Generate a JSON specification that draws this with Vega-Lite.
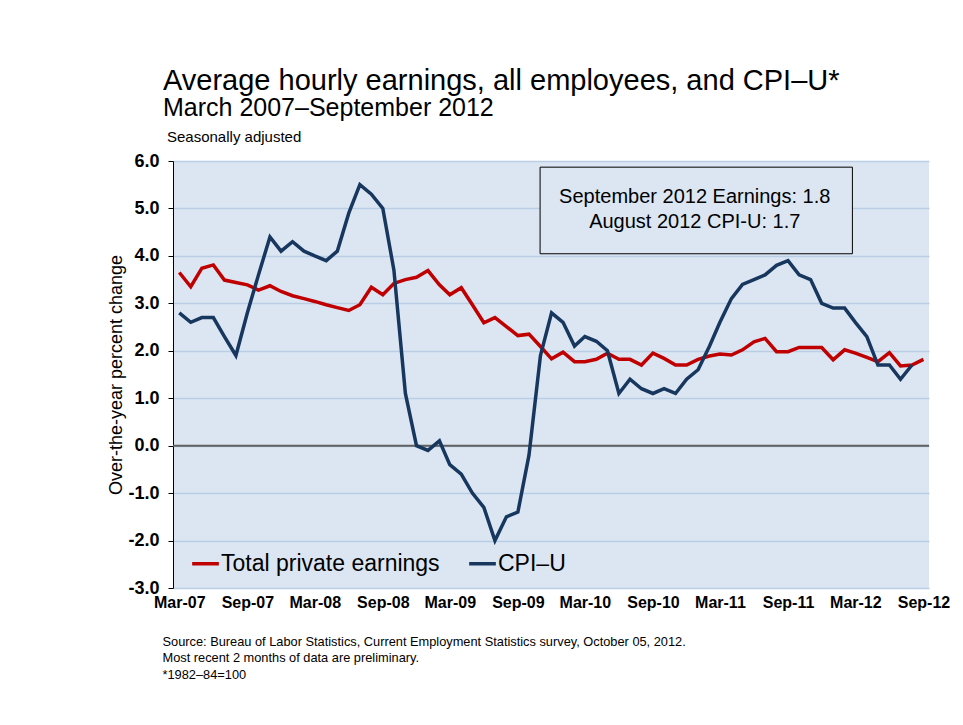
{
  "$schema": "https://vega.github.io/schema/vega-lite/v6.json",
  "width": 756,
  "height": 427,
  "autosize": {"type": "none"},
  "padding": {"left": 173, "top": 161, "right": 34, "bottom": 137},
  "background": "#ffffff",
  "config": {
    "font": "Liberation Sans",
    "view": {"fill": "#dce6f2", "stroke": null}
  },
  "title": {
    "text": "Average hourly earnings, all employees, and CPI–U*",
    "subtitle": "March 2007–September 2012",
    "anchor": "start",
    "frame": "group",
    "orient": "top",
    "dx": -10,
    "offset": 9,
    "font": "Liberation Sans",
    "fontSize": 29,
    "fontWeight": "normal",
    "color": "#000000",
    "subtitleFont": "Liberation Sans",
    "subtitleFontSize": 25,
    "subtitleColor": "#000000",
    "subtitlePadding": 0
  },
  "datasets": {
    "series": [
      {"date": "2007-03-01", "series": "Total private earnings", "value": 3.65},
      {"date": "2007-04-01", "series": "Total private earnings", "value": 3.35},
      {"date": "2007-05-01", "series": "Total private earnings", "value": 3.74},
      {"date": "2007-06-01", "series": "Total private earnings", "value": 3.81},
      {"date": "2007-07-01", "series": "Total private earnings", "value": 3.49},
      {"date": "2007-08-01", "series": "Total private earnings", "value": 3.44},
      {"date": "2007-09-01", "series": "Total private earnings", "value": 3.39},
      {"date": "2007-10-01", "series": "Total private earnings", "value": 3.28},
      {"date": "2007-11-01", "series": "Total private earnings", "value": 3.37},
      {"date": "2007-12-01", "series": "Total private earnings", "value": 3.25},
      {"date": "2008-01-01", "series": "Total private earnings", "value": 3.16},
      {"date": "2008-02-01", "series": "Total private earnings", "value": 3.10},
      {"date": "2008-03-01", "series": "Total private earnings", "value": 3.04},
      {"date": "2008-04-01", "series": "Total private earnings", "value": 2.97},
      {"date": "2008-05-01", "series": "Total private earnings", "value": 2.91},
      {"date": "2008-06-01", "series": "Total private earnings", "value": 2.85},
      {"date": "2008-07-01", "series": "Total private earnings", "value": 2.97},
      {"date": "2008-08-01", "series": "Total private earnings", "value": 3.34},
      {"date": "2008-09-01", "series": "Total private earnings", "value": 3.18},
      {"date": "2008-10-01", "series": "Total private earnings", "value": 3.42},
      {"date": "2008-11-01", "series": "Total private earnings", "value": 3.50},
      {"date": "2008-12-01", "series": "Total private earnings", "value": 3.55},
      {"date": "2009-01-01", "series": "Total private earnings", "value": 3.69},
      {"date": "2009-02-01", "series": "Total private earnings", "value": 3.39},
      {"date": "2009-03-01", "series": "Total private earnings", "value": 3.18},
      {"date": "2009-04-01", "series": "Total private earnings", "value": 3.33},
      {"date": "2009-05-01", "series": "Total private earnings", "value": 2.97},
      {"date": "2009-06-01", "series": "Total private earnings", "value": 2.59},
      {"date": "2009-07-01", "series": "Total private earnings", "value": 2.70},
      {"date": "2009-08-01", "series": "Total private earnings", "value": 2.51},
      {"date": "2009-09-01", "series": "Total private earnings", "value": 2.32},
      {"date": "2009-10-01", "series": "Total private earnings", "value": 2.35},
      {"date": "2009-11-01", "series": "Total private earnings", "value": 2.09},
      {"date": "2009-12-01", "series": "Total private earnings", "value": 1.83},
      {"date": "2010-01-01", "series": "Total private earnings", "value": 1.97},
      {"date": "2010-02-01", "series": "Total private earnings", "value": 1.77},
      {"date": "2010-03-01", "series": "Total private earnings", "value": 1.77},
      {"date": "2010-04-01", "series": "Total private earnings", "value": 1.82},
      {"date": "2010-05-01", "series": "Total private earnings", "value": 1.95},
      {"date": "2010-06-01", "series": "Total private earnings", "value": 1.82},
      {"date": "2010-07-01", "series": "Total private earnings", "value": 1.82},
      {"date": "2010-08-01", "series": "Total private earnings", "value": 1.70},
      {"date": "2010-09-01", "series": "Total private earnings", "value": 1.95},
      {"date": "2010-10-01", "series": "Total private earnings", "value": 1.84},
      {"date": "2010-11-01", "series": "Total private earnings", "value": 1.70},
      {"date": "2010-12-01", "series": "Total private earnings", "value": 1.70},
      {"date": "2011-01-01", "series": "Total private earnings", "value": 1.82},
      {"date": "2011-02-01", "series": "Total private earnings", "value": 1.89},
      {"date": "2011-03-01", "series": "Total private earnings", "value": 1.93},
      {"date": "2011-04-01", "series": "Total private earnings", "value": 1.91},
      {"date": "2011-05-01", "series": "Total private earnings", "value": 2.02},
      {"date": "2011-06-01", "series": "Total private earnings", "value": 2.19},
      {"date": "2011-07-01", "series": "Total private earnings", "value": 2.26},
      {"date": "2011-08-01", "series": "Total private earnings", "value": 1.98},
      {"date": "2011-09-01", "series": "Total private earnings", "value": 1.98},
      {"date": "2011-10-01", "series": "Total private earnings", "value": 2.07},
      {"date": "2011-11-01", "series": "Total private earnings", "value": 2.07},
      {"date": "2011-12-01", "series": "Total private earnings", "value": 2.07},
      {"date": "2012-01-01", "series": "Total private earnings", "value": 1.81},
      {"date": "2012-02-01", "series": "Total private earnings", "value": 2.02},
      {"date": "2012-03-01", "series": "Total private earnings", "value": 1.95},
      {"date": "2012-04-01", "series": "Total private earnings", "value": 1.86},
      {"date": "2012-05-01", "series": "Total private earnings", "value": 1.77},
      {"date": "2012-06-01", "series": "Total private earnings", "value": 1.96},
      {"date": "2012-07-01", "series": "Total private earnings", "value": 1.68},
      {"date": "2012-08-01", "series": "Total private earnings", "value": 1.70},
      {"date": "2012-09-01", "series": "Total private earnings", "value": 1.82},
      {"date": "2007-03-01", "series": "CPI–U", "value": 2.8},
      {"date": "2007-04-01", "series": "CPI–U", "value": 2.6},
      {"date": "2007-05-01", "series": "CPI–U", "value": 2.7},
      {"date": "2007-06-01", "series": "CPI–U", "value": 2.7},
      {"date": "2007-07-01", "series": "CPI–U", "value": 2.3},
      {"date": "2007-08-01", "series": "CPI–U", "value": 1.9},
      {"date": "2007-09-01", "series": "CPI–U", "value": 2.8},
      {"date": "2007-10-01", "series": "CPI–U", "value": 3.6},
      {"date": "2007-11-01", "series": "CPI–U", "value": 4.4},
      {"date": "2007-12-01", "series": "CPI–U", "value": 4.1},
      {"date": "2008-01-01", "series": "CPI–U", "value": 4.3},
      {"date": "2008-02-01", "series": "CPI–U", "value": 4.1},
      {"date": "2008-03-01", "series": "CPI–U", "value": 4.0},
      {"date": "2008-04-01", "series": "CPI–U", "value": 3.9},
      {"date": "2008-05-01", "series": "CPI–U", "value": 4.1},
      {"date": "2008-06-01", "series": "CPI–U", "value": 4.9},
      {"date": "2008-07-01", "series": "CPI–U", "value": 5.5},
      {"date": "2008-08-01", "series": "CPI–U", "value": 5.3},
      {"date": "2008-09-01", "series": "CPI–U", "value": 5.0},
      {"date": "2008-10-01", "series": "CPI–U", "value": 3.7},
      {"date": "2008-11-01", "series": "CPI–U", "value": 1.1},
      {"date": "2008-12-01", "series": "CPI–U", "value": 0.0},
      {"date": "2009-01-01", "series": "CPI–U", "value": -0.1},
      {"date": "2009-02-01", "series": "CPI–U", "value": 0.1},
      {"date": "2009-03-01", "series": "CPI–U", "value": -0.4},
      {"date": "2009-04-01", "series": "CPI–U", "value": -0.6},
      {"date": "2009-05-01", "series": "CPI–U", "value": -1.0},
      {"date": "2009-06-01", "series": "CPI–U", "value": -1.3},
      {"date": "2009-07-01", "series": "CPI–U", "value": -2.0},
      {"date": "2009-08-01", "series": "CPI–U", "value": -1.5},
      {"date": "2009-09-01", "series": "CPI–U", "value": -1.4},
      {"date": "2009-10-01", "series": "CPI–U", "value": -0.2},
      {"date": "2009-11-01", "series": "CPI–U", "value": 1.9},
      {"date": "2009-12-01", "series": "CPI–U", "value": 2.8},
      {"date": "2010-01-01", "series": "CPI–U", "value": 2.6},
      {"date": "2010-02-01", "series": "CPI–U", "value": 2.1},
      {"date": "2010-03-01", "series": "CPI–U", "value": 2.3},
      {"date": "2010-04-01", "series": "CPI–U", "value": 2.2},
      {"date": "2010-05-01", "series": "CPI–U", "value": 2.0},
      {"date": "2010-06-01", "series": "CPI–U", "value": 1.1},
      {"date": "2010-07-01", "series": "CPI–U", "value": 1.4},
      {"date": "2010-08-01", "series": "CPI–U", "value": 1.2},
      {"date": "2010-09-01", "series": "CPI–U", "value": 1.1},
      {"date": "2010-10-01", "series": "CPI–U", "value": 1.2},
      {"date": "2010-11-01", "series": "CPI–U", "value": 1.1},
      {"date": "2010-12-01", "series": "CPI–U", "value": 1.4},
      {"date": "2011-01-01", "series": "CPI–U", "value": 1.6},
      {"date": "2011-02-01", "series": "CPI–U", "value": 2.1},
      {"date": "2011-03-01", "series": "CPI–U", "value": 2.6},
      {"date": "2011-04-01", "series": "CPI–U", "value": 3.1},
      {"date": "2011-05-01", "series": "CPI–U", "value": 3.4},
      {"date": "2011-06-01", "series": "CPI–U", "value": 3.5},
      {"date": "2011-07-01", "series": "CPI–U", "value": 3.6},
      {"date": "2011-08-01", "series": "CPI–U", "value": 3.8},
      {"date": "2011-09-01", "series": "CPI–U", "value": 3.9},
      {"date": "2011-10-01", "series": "CPI–U", "value": 3.6},
      {"date": "2011-11-01", "series": "CPI–U", "value": 3.5},
      {"date": "2011-12-01", "series": "CPI–U", "value": 3.0},
      {"date": "2012-01-01", "series": "CPI–U", "value": 2.9},
      {"date": "2012-02-01", "series": "CPI–U", "value": 2.9},
      {"date": "2012-03-01", "series": "CPI–U", "value": 2.6},
      {"date": "2012-04-01", "series": "CPI–U", "value": 2.3},
      {"date": "2012-05-01", "series": "CPI–U", "value": 1.7},
      {"date": "2012-06-01", "series": "CPI–U", "value": 1.7},
      {"date": "2012-07-01", "series": "CPI–U", "value": 1.4},
      {"date": "2012-08-01", "series": "CPI–U", "value": 1.7}
    ]
  },
  "layer": [
    {
      "data": {"values": [{}]},
      "mark": {"type": "rule", "color": "#5f5f5f", "strokeWidth": 2},
      "encoding": {"y": {"datum": 0, "type": "quantitative"}}
    },
    {
      "data": {"values": [{}]},
      "mark": {"type": "rect", "fill": "#dce6f2", "stroke": "#000000", "strokeWidth": 1},
      "encoding": {
        "x": {"datum": {"year": 2009, "month": 10, "date": 31, "utc": true}, "type": "temporal"},
        "x2": {"datum": {"year": 2012, "month": 2, "date": 22, "utc": true}},
        "y": {"datum": 5.87, "type": "quantitative"},
        "y2": {"datum": 4.045}
      }
    },
    {
      "data": {"values": [{}]},
      "mark": {"type": "text", "align": "center", "baseline": "alphabetic", "fontSize": 20, "lineHeight": 25, "color": "#000000"},
      "encoding": {
        "x": {"datum": {"year": 2010, "month": 12, "date": 23, "utc": true}, "type": "temporal"},
        "y": {"datum": 5.11, "type": "quantitative"},
        "text": {"value": ["September 2012 Earnings: 1.8", "August 2012 CPI-U: 1.7"]}
      }
    },
    {
      "data": {"name": "series"},
      "mark": {"type": "line", "strokeWidth": 3.5},
      "encoding": {
        "x": {
          "field": "date",
          "type": "temporal",
          "scale": {"type": "utc", "domain": [{"year": 2007, "month": 2, "date": 12, "utc": true}, {"year": 2012, "month": 9, "date": 16, "utc": true}]},
          "axis": {
            "values": [
              {"year": 2007, "month": 3, "date": 1, "utc": true},
              {"year": 2007, "month": 9, "date": 1, "utc": true},
              {"year": 2008, "month": 3, "date": 1, "utc": true},
              {"year": 2008, "month": 9, "date": 1, "utc": true},
              {"year": 2009, "month": 3, "date": 1, "utc": true},
              {"year": 2009, "month": 9, "date": 1, "utc": true},
              {"year": 2010, "month": 3, "date": 1, "utc": true},
              {"year": 2010, "month": 9, "date": 1, "utc": true},
              {"year": 2011, "month": 3, "date": 1, "utc": true},
              {"year": 2011, "month": 9, "date": 1, "utc": true},
              {"year": 2012, "month": 3, "date": 1, "utc": true},
              {"year": 2012, "month": 9, "date": 1, "utc": true}
            ],
            "labelExpr": "utcFormat(datum.value, '%b-%y')",
            "labelFont": "Liberation Sans",
            "labelFontWeight": "bold",
            "labelFontSize": 16,
            "labelColor": "#000000",
            "labelPadding": 6,
            "labelBaseline": "top",
            "labelFlush": false,
            "labelOverlap": false,
            "ticks": false,
            "tickSize": 0,
            "domain": false,
            "grid": false,
            "title": ["Source: Bureau of Labor Statistics, Current Employment Statistics survey, October 05, 2012.", "Most recent 2 months of data are preliminary.", "*1982–84=100"],
            "titleFont": "Liberation Sans",
            "titleFontSize": 12.8,
            "titleFontWeight": "normal",
            "titleColor": "#000000",
            "titleAlign": "left",
            "titleAnchor": "start",
            "titleBaseline": "alphabetic",
            "titleX": -11,
            "titleY": 57,
            "titleLineHeight": 16.5
          }
        },
        "y": {
          "field": "value",
          "type": "quantitative",
          "scale": {"domain": [-3, 6], "nice": false, "zero": false},
          "axis": {
            "values": [-3, -2, -1, 0, 1, 2, 3, 4, 5, 6],
            "format": ".1f",
            "labelExpr": "replace(datum.label, '−', '-')",
            "labelFont": "Liberation Sans",
            "labelFontWeight": "bold",
            "labelFontSize": 18,
            "labelColor": "#000000",
            "labelPadding": 9,
            "labelFlush": false,
            "tickSize": 5,
            "tickColor": "#000000",
            "tickWidth": 1,
            "domainColor": "#000000",
            "domainWidth": 1,
            "grid": true,
            "gridColor": "#b9cde5",
            "gridWidth": 1.5,
            "title": "Over-the-year percent change",
            "titleFont": "Liberation Sans",
            "titleFontSize": 18,
            "titleFontWeight": "normal",
            "titleColor": "#000000",
            "titlePadding": 2
          }
        },
        "color": {
          "field": "series",
          "type": "nominal",
          "scale": {"domain": ["Total private earnings", "CPI–U"], "range": ["#c00000", "#17375e"]},
          "legend": {
            "orient": "none",
            "legendX": 17,
            "legendY": 387,
            "direction": "horizontal",
            "title": null,
            "symbolType": "stroke",
            "symbolSize": 713,
            "symbolStrokeWidth": 3.5,
            "labelFont": "Liberation Sans",
            "labelFontSize": 23,
            "labelColor": "#000000",
            "labelOffset": 0,
            "labelLimit": 400,
            "columnPadding": 22,
            "padding": 0
          }
        }
      }
    },
    {
      "data": {"values": [{}]},
      "mark": {"type": "text", "align": "left", "baseline": "alphabetic", "fontSize": 15, "dx": -6, "dy": -19, "color": "#000000"},
      "encoding": {
        "x": {"datum": {"year": 2007, "month": 2, "date": 12, "utc": true}, "type": "temporal"},
        "y": {"datum": 6, "type": "quantitative"},
        "text": {"value": "Seasonally adjusted"}
      }
    }
  ]
}
